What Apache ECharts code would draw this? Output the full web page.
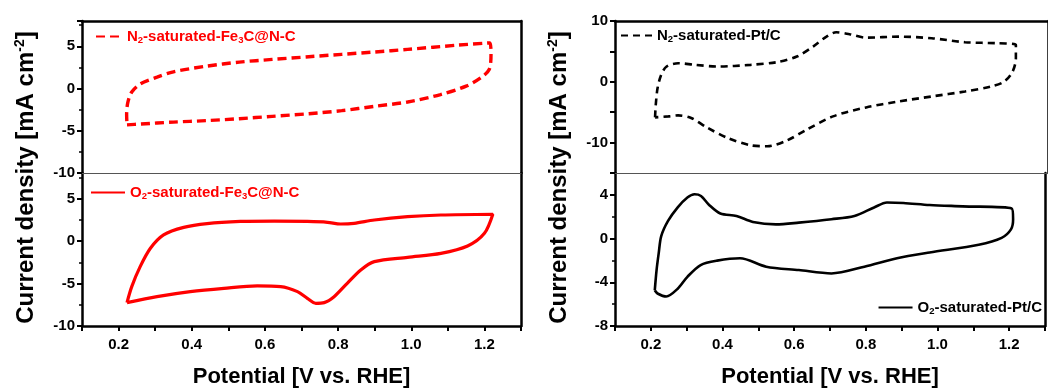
<!DOCTYPE html>
<html><head><meta charset="utf-8">
<script src="https://cdn.jsdelivr.net/npm/echarts@6/dist/echarts.min.js"></script>
<style>html,body{margin:0;padding:0;background:#fff}#c{width:1048px;height:390px}</style>
</head><body><div id="c"></div>
<script>
// ---- data (potential V vs RHE, current density mA cm^-2) ----
const n2FeX = [0.223,0.26,0.35,0.44,0.53,0.62,0.72,0.81,0.90,0.99,1.08,1.15,1.19,1.213,1.218,1.215,1.13,0.99,0.90,0.81,0.72,0.62,0.53,0.44,0.35,0.305,0.26,0.236,0.225,0.222,0.223];
const n2FeY = [-4.3,-4.2,-3.97,-3.8,-3.57,-3.29,-2.98,-2.62,-2.1,-1.59,-0.71,0.28,1.27,2.26,4.0,5.4,5.15,4.64,4.33,4.05,3.77,3.45,3.13,2.65,1.98,1.35,0.56,-0.4,-1.7,-3.1,-4.3];

const o2FeX = [0.223,0.305,0.396,0.488,0.579,0.643,0.689,0.716,0.739,0.762,0.789,0.825,0.862,0.899,0.99,1.081,1.154,1.2,1.223,1.081,0.99,0.899,0.844,0.807,0.771,0.716,0.625,0.533,0.442,0.378,0.323,0.287,0.259,0.236,0.223];
const o2FeY = [-7.25,-6.55,-5.96,-5.57,-5.29,-5.37,-5.96,-6.75,-7.33,-7.25,-6.55,-4.98,-3.41,-2.43,-1.92,-1.45,-0.59,0.9,3.15,3.06,2.86,2.47,2.08,2.0,2.2,2.3,2.35,2.3,2.05,1.6,0.71,-0.86,-3.02,-5.37,-7.25];

const n2PtX = [0.211,0.213,0.218,0.228,0.243,0.275,0.321,0.385,0.476,0.549,0.604,0.649,0.686,0.713,0.75,0.796,0.887,0.978,1.07,1.161,1.211,1.211,1.202,1.179,1.143,1.07,0.978,0.887,0.796,0.704,0.631,0.576,0.522,0.476,0.412,0.357,0.311,0.275,0.248,0.211];
const n2PtY = [-5.85,-3.77,-1.03,1.15,2.51,3.06,2.79,2.51,2.79,3.23,4.15,5.79,7.43,8.15,7.82,7.26,7.43,7.16,6.51,6.34,6.07,3.89,1.69,0.05,-0.77,-1.59,-2.41,-3.23,-4.21,-5.69,-7.87,-9.67,-10.6,-10.44,-9.23,-7.59,-5.95,-5.52,-5.69,-5.85];

const o2PtX = [0.211,0.216,0.222,0.229,0.248,0.275,0.302,0.322,0.34,0.362,0.394,0.439,0.485,0.549,0.613,0.704,0.768,0.823,0.859,0.905,0.978,1.07,1.207,1.211,1.205,1.179,1.115,0.978,0.887,0.796,0.704,0.613,0.522,0.449,0.385,0.339,0.302,0.275,0.243,0.22,0.211];
const o2PtY = [-4.74,-2.88,-1.33,0.22,1.61,2.85,3.75,4.05,3.9,3.1,2.3,2.07,1.52,1.3,1.46,1.77,2.07,2.85,3.3,3.26,3.07,2.95,2.76,1.77,0.84,0.07,-0.56,-1.27,-1.8,-2.57,-3.19,-2.88,-2.57,-1.8,-2.02,-2.42,-3.5,-4.59,-5.3,-5.05,-4.74];

const seriesNames = ['N2-saturated-Fe3C@N-C','O2-saturated-Fe3C@N-C','N2-saturated-Pt/C','O2-saturated-Pt/C'];
const legendRich = ['{n|N}{s|2}{n|-saturated-Fe}{s|3}{n|C@N-C}','{n|O}{s|2}{n|-saturated-Fe}{s|3}{n|C@N-C}','{n|N}{s|2}{n|-saturated-Pt/C}','{n|O}{s|2}{n|-saturated-Pt/C}'];
const xTitle = 'Potential [V vs. RHE]';
const yTitle = '{m|Current density [mA cm}{s|-2}{m|]}';
const yRanges = [[-10,8,5,5],[-10,8,5,5],[-15,10,5,10],[-8,6,4,4]]; // min,max,interval,label step

const FONT = "'Liberation Sans', Arial, Helvetica, sans-serif";
const pairs = (xs, ys) => xs.map((x, i) => [x, ys[i]]);
const xLab = v => { const k = Math.round(v * 10); return (k % 2 === 0) ? (k / 10).toFixed(1) : ''; };
const yLab = step => v => (Math.abs(v % step) < 1e-9) ? String(v) : '';

const grids = [
  {left:82, top:21, width:439, height:152},
  {left:82, top:173, width:439, height:153},
  {left:615, top:21, width:440, height:152},
  {left:615, top:173, width:440, height:153},
  {left:82, top:25, width:439, height:305},
  {left:615, top:25, width:440, height:305}
];
const labelStyle = {fontSize:15, fontWeight:'bold', color:'#000', fontFamily:FONT};
const xAxes = [], yAxes = [];
for (let g = 0; g < 4; g++) {
  const isBottom = (g % 2 === 1);
  xAxes.push({type:'value', gridIndex:g, min:0.1, max:1.3, interval:0.1, position:'bottom',
    axisLine:{show:true, onZero:false, lineStyle:{color: isBottom ? '#000' : '#555', width: isBottom ? 2.5 : 1}},
    axisTick:{show:isBottom, inside:false, length:5, lineStyle:{width:2, color:'#000'}},
    axisLabel:Object.assign({show:isBottom, formatter:xLab, margin:11}, labelStyle),
    splitLine:{show:false},
    name: isBottom ? xTitle : '', nameLocation:'middle', nameGap:40,
    nameTextStyle:{fontSize:22, fontWeight:'bold', color:'#000', fontFamily:FONT}});
  xAxes.push({type:'value', gridIndex:g, min:0.1, max:1.3, position:'top',
    axisLine:{show:!isBottom, onZero:false, lineStyle:{color:'#000', width:2.5}},
    axisTick:{show:false}, axisLabel:{show:false}, splitLine:{show:false}});
  const r = yRanges[g];
  yAxes.push({type:'value', gridIndex:g, min:r[0], max:r[1], interval:r[2], position:'left',
    axisLine:{show:true, onZero:false, lineStyle:{color:'#000', width:2.5}},
    axisTick:{show:true, inside:false, length:5, lineStyle:{width:2, color:'#000'}},
    minorTick:{show: g !== 2, splitNumber:2, length:3, lineStyle:{width:1.5, color:'#000'}},
    axisLabel:Object.assign({formatter:yLab(r[3]), margin:7}, labelStyle),
    splitLine:{show:false}});
  yAxes.push({type:'value', gridIndex:g, min:r[0], max:r[1], position:'right',
    axisLine:{show:true, onZero:false, lineStyle:{color:'#000', width:2.5}},
    axisTick:{show:false}, axisLabel:{show:false}, splitLine:{show:false}});
}
for (let g = 4; g < 6; g++) {
  xAxes.push({type:'value', gridIndex:g, min:0, max:1, show:false});
  yAxes.push({type:'value', gridIndex:g, min:0, max:1, show:true,
    axisLine:{show:false}, axisTick:{show:false}, axisLabel:{show:false}, splitLine:{show:false},
    name:yTitle, nameLocation:'middle', nameGap:42, nameRotate:90,
    nameTextStyle:{rich:{
      m:{fontSize:24, fontWeight:'bold', color:'#000', fontFamily:FONT},
      s:{fontSize:14, fontWeight:'bold', color:'#000', fontFamily:FONT, padding:[0,0,13,0]}}}});
}
const colors = ['#ff0000','#ff0000','#000000','#000000'];
const dashes = [[9,5],'solid',[7,5],'solid'];
const widths = [3.4,3.2,2.6,2.6];
const dataSets = [pairs(n2FeX,n2FeY), pairs(o2FeX,o2FeY), pairs(n2PtX,n2PtY), pairs(o2PtX,o2PtY)];
const series = dataSets.map((d, g) => ({
  type:'line', name:seriesNames[g], xAxisIndex:2*g, yAxisIndex:2*g, data:d,
  symbol:'none', smooth:0.3, animation:false,
  lineStyle:{color:colors[g], width:widths[g], type:dashes[g]}, itemStyle:{color:colors[g]}
}));
const legPos = [
  {left:90, top:24, itemWidth:26},
  {left:85, top:180, itemWidth:34},
  {left:615, top:23, itemWidth:31},
  {right:1, top:295, itemWidth:34}
];
const legends = legPos.map((p, g) => Object.assign({
  data:[seriesNames[g]], itemHeight:12, padding:5, selectedMode:false,
  itemStyle:{color:'rgba(0,0,0,0)', borderColor:'rgba(0,0,0,0)', borderWidth:0, opacity:0},
  formatter: () => legendRich[g],
  textStyle:{rich:{
    n:{fontSize:15, fontWeight:'bold', color:colors[g], fontFamily:FONT},
    s:{fontSize:9.5, fontWeight:'bold', color:colors[g], fontFamily:FONT, padding:[8,0,0,0]}}}
}, p.right !== undefined ? {right:p.right} : {left:p.left}, {top:p.top, itemWidth:p.itemWidth}));
const chart = echarts.init(document.getElementById('c'), null, {renderer:'canvas'});
chart.setOption({animation:false, backgroundColor:'#fff', grid:grids, xAxis:xAxes, yAxis:yAxes, legend:legends, series:series});
</script></body></html>
